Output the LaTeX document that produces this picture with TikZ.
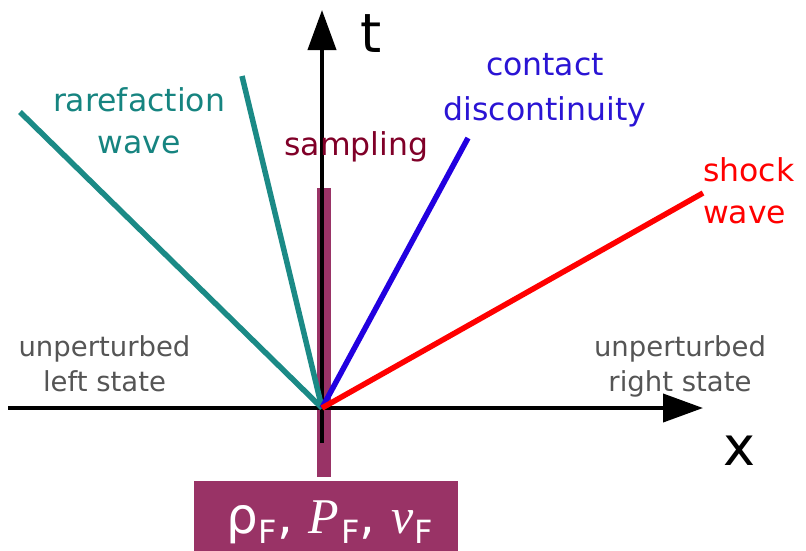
\documentclass[tikz,border=0pt]{standalone}
\usepackage{fontspec}
\setmainfont{DejaVu Sans}
\newfontfamily\tnr{Liberation Serif}
\usetikzlibrary{arrows.meta}
\definecolor{teal1}{HTML}{1B8A86}
\definecolor{tealtxt}{HTML}{168480}
\definecolor{blue1}{HTML}{2200E0}
\definecolor{bluetxt}{HTML}{2A14D4}
\definecolor{red1}{HTML}{FF0000}
\definecolor{samp}{HTML}{800028}
\definecolor{mag}{HTML}{993366}
\definecolor{graytxt}{HTML}{555555}
\tikzset{
  axis/.style={line width=4pt,-{Triangle[length=40pt,width=28pt]}},
  wave/.style={line width=5.5pt},
  lbl/.style={inner sep=0pt,align=center,font=\fontsize{31.5}{42}\selectfont},
  glbl/.style={inner sep=0pt,align=center,text=graytxt,font=\fontsize{27.5}{35}\selectfont},
  axlbl/.style={inner sep=0pt,font=\fontsize{54}{54}\selectfont},
}
\newcommand{\subF}{\raisebox{-10pt}{\fontsize{32}{32}\selectfont F}}
\begin{document}
\begin{tikzpicture}[x=1pt,y=-1pt]
\useasboundingbox (0,0) rectangle (806,550);
% sampling bar and result box
\node[fill=mag,inner sep=0pt,minimum width=14pt,minimum height=289pt] (bar) at (324,332.5) {};
\node[fill=mag,inner sep=0pt,minimum width=264pt,minimum height=79pt] (box) at (326,520.5) {};
\node[anchor=base,inner sep=0pt,text=white,font=\fontsize{50}{50}\selectfont] (vals) at (330,533)
  {ρ\subF, {\tnr\itshape P}\kern2pt\subF, {\tnr\itshape v}\kern1pt\subF};
% axes
\coordinate (O) at (322,408);
\coordinate (xs) at (8,408);
\coordinate (xe) at (703,408);
\coordinate (ts) at (322,443);
\coordinate (te) at (322,10);
\draw[axis] (xs) -- (xe);
\draw[axis] (ts) -- (te);
% waves
\coordinate (r1) at (20,112);
\coordinate (r2) at (242,76);
\coordinate (cd) at (468,138);
\coordinate (sw) at (703,193);
\draw[wave,teal1] (O) -- (r1);
\draw[wave,teal1] (O) -- (r2);
\draw[wave,blue1] (O) -- (cd);
\draw[wave,red1] (O) -- (sw);
% labels
\node[lbl,text=tealtxt] (rw) at (139,120.5) {rarefaction\\wave};
\node[lbl,text=bluetxt,font=\fontsize{31.5}{45}\selectfont] (cdl) at (545,90.5) {contact\\discontinuity};
\node[lbl,text=red1,align=left,anchor=west] (swl) at (703,191) {shock\\wave};
\node[inner sep=0pt,anchor=base,text=samp,font=\fontsize{31.5}{42}\selectfont] (sl) at (356.5,155) {sampling};
\node[glbl] (ul) at (104.5,364) {unperturbed\\left state};
\node[glbl] (ur) at (680,366.5) {unperturbed\\right state};
\node[axlbl] (tl) at (371.5,33.5) {t};
\node[axlbl] (xl) at (739,451) {x};
\end{tikzpicture}
\end{document}
